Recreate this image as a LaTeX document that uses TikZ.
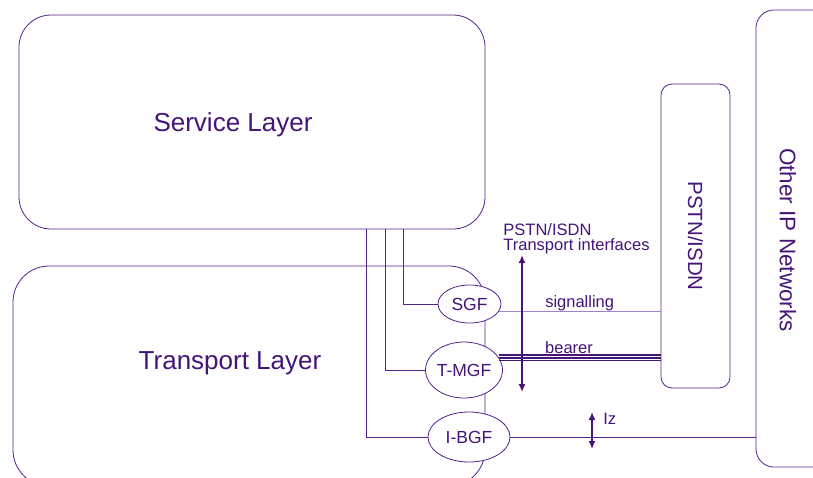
\documentclass[tikz,border=0pt]{standalone}
\usepackage{fontspec}
\setmainfont{Liberation Sans}
\usetikzlibrary{shapes.geometric,arrows.meta}
\definecolor{ituline}{RGB}{84,34,140}
\definecolor{itutext}{RGB}{68,20,120}
\definecolor{itulight}{RGB}{160,132,200}
\definecolor{itudark}{RGB}{70,20,120}

\begin{document}
\begin{tikzpicture}[x=1pt, y=-1pt, line width=0.8pt, color=ituline, text=itutext,
        >={Latex[length=8pt,width=7pt]},
        layer/.style={draw=ituline, inner sep=0pt},
        func/.style={ellipse, draw=ituline, fill=white, inner sep=0pt, font=\fontsize{17.5}{20}\selectfont},
        big/.style={font=\fontsize{26}{30}\selectfont},
        small/.style={font=\fontsize{16.5}{15}\selectfont}]
        \useasboundingbox (0,0) rectangle (813,477);
        \clip (0,0) rectangle (813,477);

        \node[layer, rounded corners=32pt, minimum width=466, minimum height=214] (svc) at (252,122) {};
        \node[big] (svctxt) at (233,125) {Service Layer};
        \node[layer, rounded corners=36pt, minimum width=472, minimum height=220] (trn) at (249,376) {};
        \node[big] (trntxt) at (230,363) {Transport Layer};
        \node[layer, rounded corners=11pt, minimum width=69, minimum height=304] (pstn) at (695.5,236) {};
        \node[rotate=-90, font=\fontsize{20.5}{24}\selectfont] (pstntxt) at (pstn) {PSTN/ISDN};
        \node[layer, rounded corners=18pt, minimum width=114, minimum height=457] (oip) at (813,238.5) {};
        \node[rotate=-90, font=\fontsize{22.5}{24}\selectfont] (oiptxt) at (788,240) {Other IP Networks};

        \node[func, minimum width=63, minimum height=38] (sgf) at (469.5,304) {SGF};
        \node[func, minimum width=72, minimum height=56] (tmgf) at (464,370) {T-MGF};
        \node[func, minimum width=82, minimum height=50] (ibgf) at (469,437) {I-BGF};

        \coordinate (tapS) at (403,229);
        \coordinate (tapT) at (385,229);
        \coordinate (tapI) at (366,229);
        \draw (tapS) |- (sgf.west);
        \draw (tapT) |- (tmgf.west);
        \draw (tapI) |- (ibgf.west);

        \draw[itulight] (sgf.-15) -- (sgf.-15 -| pstn.west) node [midway, above, inner sep=1pt, small, text=itutext] {signalling};
        \foreach \dy in {-3,-1.5,0,1.5,3}
            \draw[line width=1pt, itudark] ([yshift=\dy pt]tmgf.20) -- ([yshift=\dy pt]tmgf.20 -| pstn.west);
        \node[small, anchor=south, inner sep=3pt] (bearer) at (569,357) {bearer};
        \draw (ibgf.east) -- (ibgf.east -| oip.west);

        \coordinate (tiTop) at (522,255);
        \coordinate (tiBot) at (522,392);
        \draw [<->, line width=1.6pt, itudark] (tiTop) -- (tiBot);
        \node[small, anchor=north west, align=left, inner sep=0pt] (tilbl) at (503,223) {PSTN/ISDN\\Transport interfaces};

        \coordinate (izTop) at (592,412);
        \coordinate (izBot) at (592,449);
        \draw [<->, line width=1.6pt, itudark] (izTop) -- (izBot);
        \node[small, anchor=base west, inner sep=0pt] (izlbl) at (603,424) {Iz};
    \end{tikzpicture}
\end{document}
